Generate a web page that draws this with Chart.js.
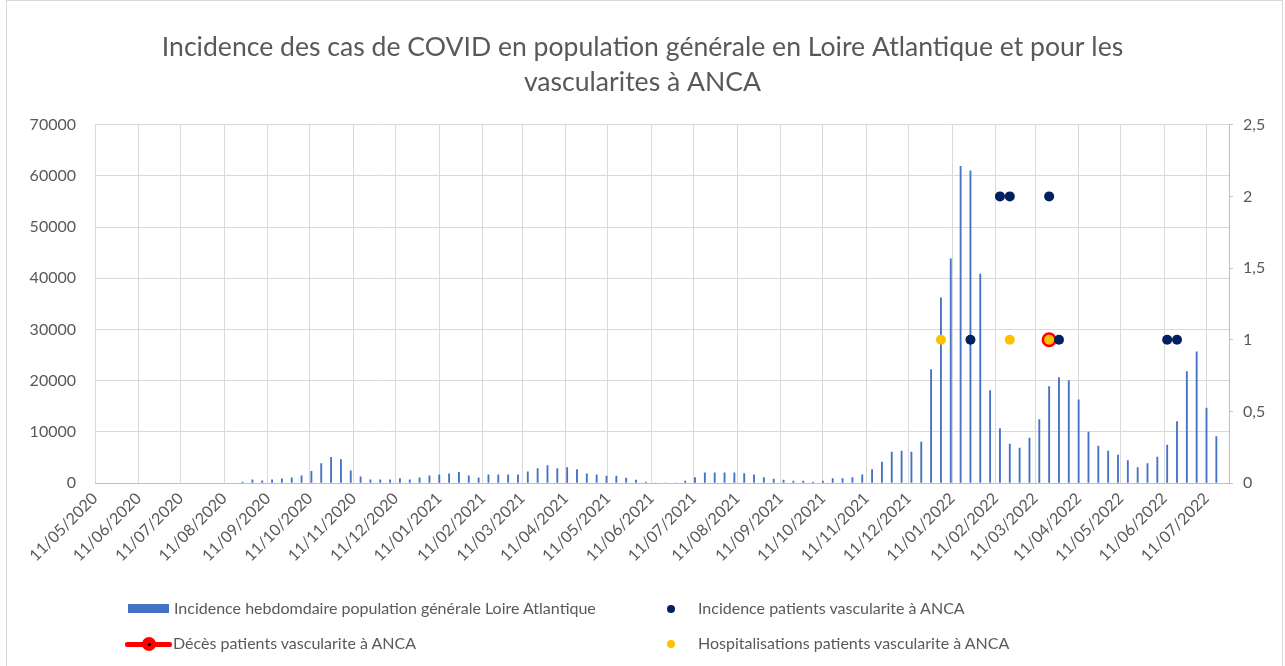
<!DOCTYPE html>
<html lang="fr">
<head>
<meta charset="utf-8">
<title>Incidence COVID et vascularites à ANCA</title>
<script src="https://cdn.jsdelivr.net/npm/chart.js@4.4.0/dist/chart.umd.min.js"></script>
<style>
    html, body { margin: 0; padding: 0; background: #fff; }
    #cadre { position: relative; width: 1285px; height: 666px; overflow: hidden; }
    #bord { position: absolute; left: 6px; top: 0; width: 1277px; height: 700px; border: 1px solid #D9D9D9; box-sizing: border-box; }
    #graphique { position: absolute; left: 0; top: 0; }
    .leg { position: absolute; font: 16px Lato, sans-serif; color: #595959; white-space: nowrap; line-height: 20px; }
    .ico { position: absolute; }
</style>
</head>
<body>
<div id="cadre">
    <div id="bord"></div>
    <canvas id="graphique" width="1285" height="666"></canvas>

    <!-- Légende faite à la main (2 colonnes comme dans Excel) -->
    <div class="ico" style="left:128px; top:604px; width:41px; height:9px; background:#4472C4;"></div>
    <div class="leg" style="left:174px; top:598px;">Incidence hebdomdaire population générale Loire Atlantique</div>

    <div class="ico" style="left:125px; top:642px; width:47px; height:5px; background:#FF0000; border-radius:2px;"></div>
    <div class="ico" style="left:142px; top:637px; width:14px; height:14px; background:#FF0000; border-radius:50%;"></div>
    <div class="ico" style="left:148px; top:643px; width:3px; height:3px; background:#000; border-radius:50%;"></div>
    <div class="leg" style="left:173px; top:633px;">Décès patients vascularite à ANCA</div>

    <div class="ico" style="left:667px; top:605px; width:8px; height:8px; background:#002060; border-radius:50%;"></div>
    <div class="leg" style="left:698px; top:598px;">Incidence patients vascularite à ANCA</div>

    <div class="ico" style="left:667px; top:640px; width:8px; height:8px; background:#FFC000; border-radius:50%;"></div>
    <div class="leg" style="left:698px; top:633px;">Hospitalisations patients vascularite à ANCA</div>
</div>

<script>
// =========================================================
// 1. DONNÉES
// =========================================================
const premiereSemaine = '2020-08-24'; // lundi de la 1re barre, puis une barre par semaine

// Incidence hebdomadaire en population générale (Loire Atlantique)
const incidenceHebdo = [
    200, 600, 400, 600, 800, 1000, 1400, 2300, 3800, 5000,
    4600, 2400, 1200, 600, 600, 600, 850, 600, 1000, 1400,
    1600, 1800, 2100, 1400, 1000, 1600, 1600, 1600, 1600, 2200,
    2800, 3400, 2800, 3000, 2600, 1800, 1600, 1370, 1370, 980,
    590, 200, 0, 0, 0, 390, 1040, 2000, 2000, 2000,
    2000, 1820, 1600, 1040, 780, 590, 390, 390, 200, 390,
    850, 850, 1040, 1600, 2600, 4070, 6040, 6230, 6040, 8000,
    22170, 36200, 43800, 61860, 61000, 40800, 18040, 10630, 7610, 6820,
    8790, 12400, 18830, 20600, 20000, 16270, 9970, 7220, 6230, 5440,
    4400, 3020, 3800, 5050, 7410, 12000, 21780, 25650, 14630, 9050
];

// Patients vascularite à ANCA (axe de droite)
const ancaDates = ['2022-01-24', '2022-02-14', '2022-02-21', '2022-03-21', '2022-03-28', '2022-06-13', '2022-06-20'];
const ancaValeurs = [1, 2, 2, 2, 1, 1, 1];

const hospitDates = ['2022-01-03', '2022-02-21', '2022-03-21'];
const hospitValeurs = [1, 1, 1];

const decesDates = ['2022-03-21'];
const decesValeurs = [1];

// Libellés de l'axe des dates (un par mois)
const moisLabels = [
    '11/05/2020', '11/06/2020', '11/07/2020', '11/08/2020', '11/09/2020', '11/10/2020',
    '11/11/2020', '11/12/2020', '11/01/2021', '11/02/2021', '11/03/2021', '11/04/2021',
    '11/05/2021', '11/06/2021', '11/07/2021', '11/08/2021', '11/09/2021', '11/10/2021',
    '11/11/2021', '11/12/2021', '11/01/2022', '11/02/2022', '11/03/2022', '11/04/2022',
    '11/05/2022', '11/06/2022', '11/07/2022'
];
const finAxe = '27/07/2022';

const ticksGauche = [0, 10000, 20000, 30000, 40000, 50000, 60000, 70000];
const ticksDroite = [0, 0.5, 1, 1.5, 2, 2.5];

// =========================================================
// 2. CONVERSION DES DATES EN JOURS DEPUIS LE 11/05/2020
// =========================================================
const JOUR = 86400000;
const origine = Date.UTC(2020, 4, 11);

function joursIso(iso) {
    const [a, m, j] = iso.split('-').map(Number);
    return Math.round((Date.UTC(a, m - 1, j) - origine) / JOUR);
}
function joursFr(txt) {
    const [j, m, a] = txt.split('/').map(Number);
    return Math.round((Date.UTC(a, m - 1, j) - origine) / JOUR);
}

const jour0 = joursIso(premiereSemaine);
const pointsBarres = incidenceHebdo.map((v, i) => ({ x: jour0 + 7 * i, y: v }));
const enPoints = (dates, vals) => dates.map((d, i) => ({ x: joursIso(d), y: vals[i] }));

const police = { family: 'Lato, sans-serif', size: 16 };
const gris = '#595959';

// =========================================================
// 3. LE GRAPHIQUE
// =========================================================
new Chart(document.getElementById('graphique'), {
    data: {
        datasets: [
            {
                type: 'line',
                label: 'Incidence patients vascularite à ANCA',
                data: enPoints(ancaDates, ancaValeurs),
                yAxisID: 'y2',
                showLine: false,
                pointRadius: 5,
                pointBorderWidth: 0,
                pointBackgroundColor: '#002060',
                order: 1
            },
            {
                type: 'line',
                label: 'Hospitalisations patients vascularite à ANCA',
                data: enPoints(hospitDates, hospitValeurs),
                yAxisID: 'y2',
                showLine: false,
                pointRadius: 5,
                pointBorderWidth: 0,
                pointBackgroundColor: '#FFC000',
                order: 2
            },
            {
                type: 'line',
                label: 'Décès patients vascularite à ANCA',
                data: enPoints(decesDates, decesValeurs),
                yAxisID: 'y2',
                showLine: false,
                pointRadius: 7.5,
                pointBorderWidth: 0,
                pointBackgroundColor: '#FF0000',
                order: 3
            },
            {
                type: 'bar',
                label: 'Incidence hebdomdaire population générale Loire Atlantique',
                data: pointsBarres,
                yAxisID: 'y',
                backgroundColor: '#4472C4',
                barThickness: 1.2,
                order: 10
            }
        ]
    },
    options: {
        responsive: false,
        animation: false,
        layout: { padding: 0 },
        plugins: {
            legend: { display: false },
            tooltip: { enabled: false },
            title: {
                display: true,
                text: ['Incidence des cas de COVID en population générale en Loire Atlantique et pour les', 'vascularites à ANCA'],
                color: gris,
                font: { family: 'Lato, sans-serif', size: 26.6, weight: 'normal', lineHeight: 1.32 },
                padding: { top: 29.5, bottom: 25 }
            }
        },
        scales: {
            x: {
                type: 'linear',
                offset: false,
                min: 0,
                max: joursFr(finAxe),
                afterBuildTicks: (axe) => { axe.ticks = moisLabels.map(l => ({ value: joursFr(l) })); },
                afterFit: (axe) => { axe.height = 183; },
                grid: { color: '#D9D9D9', drawTicks: false, offset: false },
                border: { color: '#BFBFBF' },
                ticks: {
                    autoSkip: false,
                    minRotation: 45,
                    maxRotation: 45,
                    padding: 6,
                    color: gris,
                    font: police,
                    callback: (val, idx) => moisLabels[idx]
                }
            },
            y: {
                position: 'left',
                min: 0,
                max: 70000,
                afterBuildTicks: (axe) => { axe.ticks = ticksGauche.map(v => ({ value: v })); },
                afterFit: (axe) => { axe.width = 95; },
                grid: { color: '#D9D9D9', drawTicks: false },
                border: { display: false },
                ticks: { padding: 19, color: gris, font: police, callback: (v) => String(v) }
            },
            y2: {
                position: 'right',
                min: 0,
                max: 2.5,
                afterBuildTicks: (axe) => { axe.ticks = ticksDroite.map(v => ({ value: v })); },
                afterFit: (axe) => { axe.width = 56; },
                grid: { drawOnChartArea: false, drawTicks: true, tickLength: 4, color: '#BFBFBF' },
                border: { color: '#BFBFBF' },
                ticks: { padding: 10, color: gris, font: police, callback: (v) => String(v).replace('.', ',') }
            }
        }
    }
});
</script>
</body>
</html>
